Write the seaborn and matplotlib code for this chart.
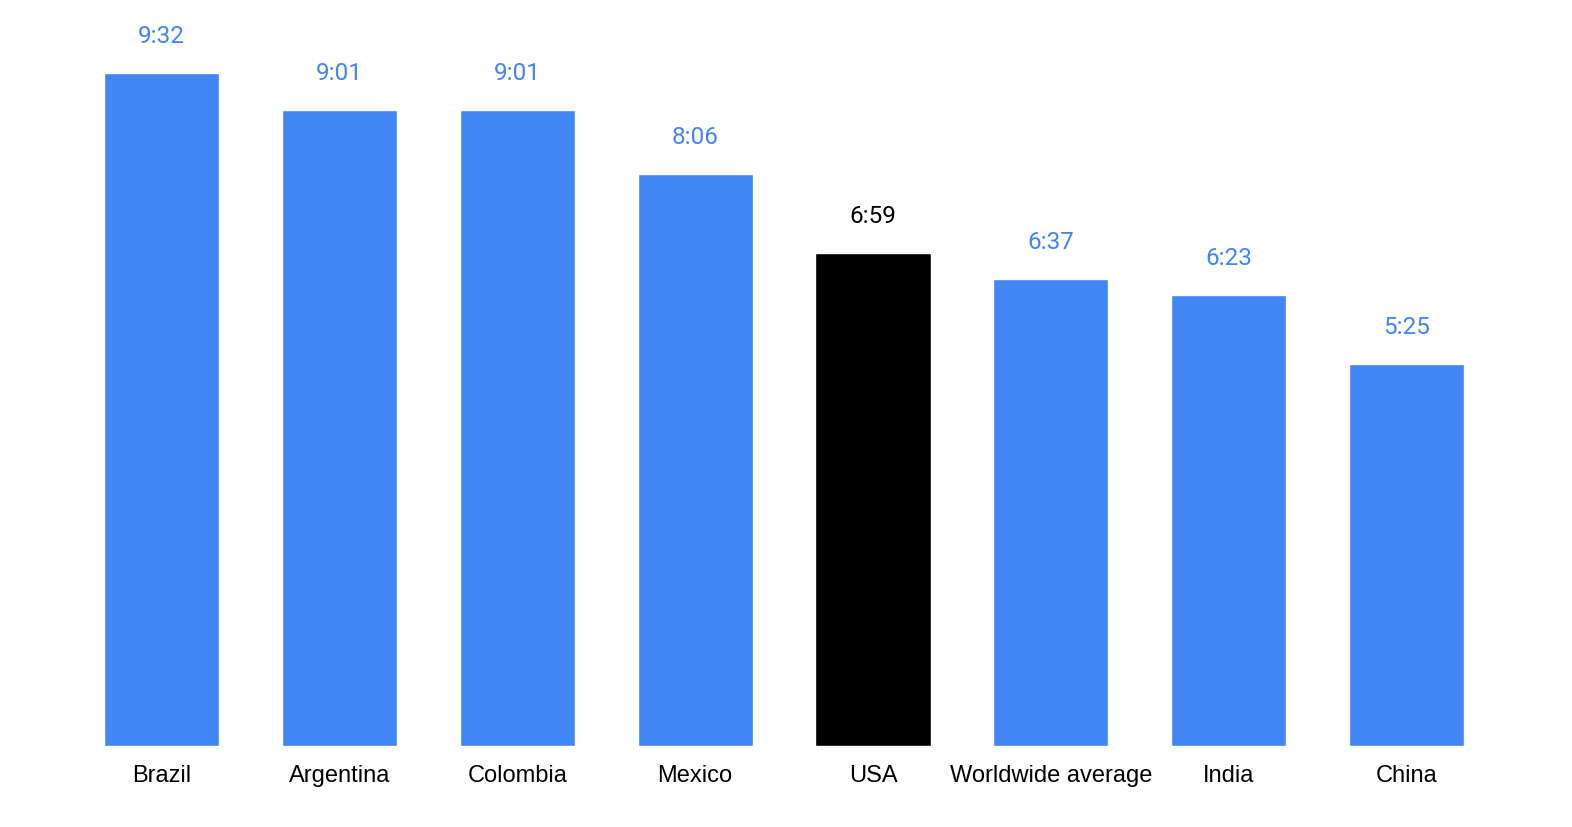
import pandas as pd
import matplotlib.pyplot as plt
import seaborn as sns

# Daily time spent online (h:mm)
countries = ['Brazil', 'Argentina', 'Colombia', 'Mexico', 'USA',
             'Worldwide average', 'India', 'China']
labels = ['9:32', '9:01', '9:01', '8:06', '6:59', '6:37', '6:23', '5:25']
minutes = [572, 541, 541, 486, 419, 397, 383, 325]

df = pd.DataFrame({'country': countries, 'minutes': minutes, 'label': labels})

blue = '#4285F4'
colors = [('#000000' if c == 'USA' else blue) for c in countries]
palette = dict(zip(countries, colors))

sns.set_style("white")
plt.rcParams['font.family'] = ['Liberation Sans', 'DejaVu Sans']

fig = plt.figure(figsize=(15.72, 8.28), dpi=100)
ax = fig.add_axes([72.6 / 1572, 81 / 828, 1422.9 / 1572, 747 / 828])

sns.barplot(data=df, x='country', y='minutes', hue='country', palette=palette,
            width=0.647, saturation=1, legend=False, ax=ax)

for bar, lab, col in zip(ax.patches, labels, colors):
    ax.annotate(lab, (bar.get_x() + bar.get_width() / 2, bar.get_height()),
                xytext=(0, 22.3), textcoords='offset points',
                ha='center', va='baseline', fontsize=17.5, color=col,
                family=['Roboto', 'DejaVu Sans'])

ax.set_xlim(-0.5, 7.5)
ax.set_ylim(0, 635)
ax.set_xlabel('')
ax.set_ylabel('')
ax.set_yticks([])
ax.tick_params(axis='x', length=0, pad=13, labelsize=17, labelcolor='black')
sns.despine(ax=ax, left=True, bottom=True)

fig.savefig('out.png', dpi=100)
